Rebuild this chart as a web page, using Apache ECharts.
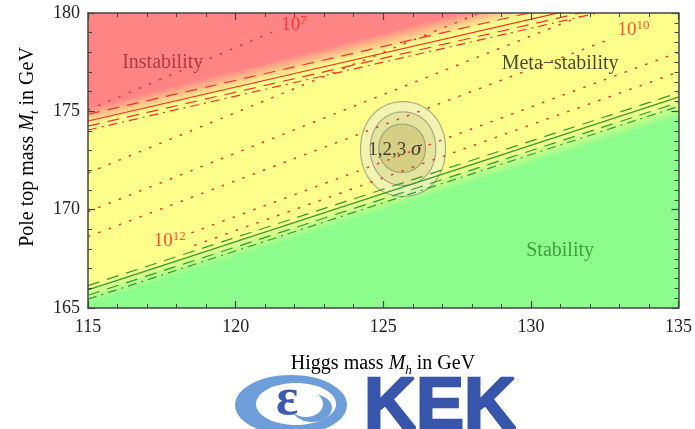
<!DOCTYPE html>
<html>
<head>
<meta charset="utf-8">
<script src="https://cdn.jsdelivr.net/npm/echarts@6.0.0/dist/echarts.min.js"></script>
<style>
html, body { margin: 0; padding: 0; background: #fff; }
#chart { width: 695px; height: 429px; }
</style>
</head>
<body>
<div id="chart"></div>
<script>
// Axis ranges (Higgs mass / pole top mass, GeV)
const mhRange = [115, 135];
const mtRange = [165, 180];

// Boundary lines [Mh, Mt]
const redDashedHi = [[115, 174.85], [135, 181.75]];
const redSolid = [[115, 174.51], [135, 181.41]];
const redDashedLo = [[115, 174.25], [135, 181.15]];
const redDashDot = [[115, 174.05], [135, 180.95]];
const greenDashedHi = [[115, 166.14], [135, 175.94]];
const greenSolid = [[115, 165.92], [135, 175.72]];
const greenDashedLo = [[115, 165.65], [135, 175.45]];
const greenDashDot = [[115, 165.45], [135, 175.25]];

// Instability scale contours (dotted)
const lambda7 = [[115, 175.07], [121.24, 179.03]];
const lambda8 = [[115, 171.87], [128.26, 180]];
const lambda9 = [[115, 169.90], [131.97, 180]];
const lambda10 = [[115, 168.63], [132.7, 178.68]];
const lambda11 = [[118.5, 168.82], [135, 178.0]];
const lambda12 = [[118.6, 168.18], [135, 177.0]];

// Shading edges: [Mh1, Mt1, Mh2, Mt2, side]  side 1 = above, -1 = below
const instabilityEdge = [115, 174.71, 128.9, 180, 1];
const stabilityEdge = [115, 165.66, 135, 175.17, -1];

// 1,2,3 sigma contours: [Mh, Mt, halfWidth, halfHeight]
const sigmaContours = [
    [125.67, 173.08, 1.44, 2.41],
    [125.67, 173.10, 1.11, 1.87],
    [125.64, 173.12, 0.79, 1.23]
];

// Text labels placed in data space
const regionLabels = [
    { text: 'Instability', at: [117.53, 177.46], kind: 'inst' },
    { text: 'Meta\u2212stability', at: [130.99, 177.41], kind: 'meta' },
    { text: 'Stability', at: [130.99, 167.9], kind: 'stab' },
    { text: '1,2,3 \u03c3', at: [125.39, 173.04], kind: 'sigma' },
    { text: '10^7', at: [121.98, 179.39], kind: 'scale' },
    { text: '10^10', at: [133.48, 179.14], kind: 'scale' },
    { text: '10^12', at: [117.77, 168.41], kind: 'scale' }
];

const serif = "'Liberation Serif', 'DejaVu Serif', serif";
const RED = '#f03030';
const GREEN = '#2f9e2f';

function shadeRenderer(full, none, width) {
    return function (params, api) {
        const p1 = api.coord([api.value(0), api.value(1)]);
        const p2 = api.coord([api.value(2), api.value(3)]);
        const side = api.value(4);
        let dx = p2[0] - p1[0], dy = p2[1] - p1[1];
        const len = Math.hypot(dx, dy);
        dx /= len; dy /= len;
        let nx = dy, ny = -dx;
        if ((ny < 0 ? 1 : -1) !== side) { nx = -nx; ny = -ny; }
        const far = 3000, h = width / 2;
        const a = [p1[0] - dx * far, p1[1] - dy * far];
        const b = [p2[0] + dx * far, p2[1] + dy * far];
        const pts = [
            [a[0] - nx * h, a[1] - ny * h], [b[0] - nx * h, b[1] - ny * h],
            [b[0] + nx * far, b[1] + ny * far], [a[0] + nx * far, a[1] + ny * far]
        ];
        const mx = (p1[0] + p2[0]) / 2, my = (p1[1] + p2[1]) / 2;
        return {
            type: 'polygon',
            shape: { points: pts },
            style: {
                fill: new echarts.graphic.LinearGradient(
                    mx - nx * h, my - ny * h, mx + nx * h, my + ny * h,
                    [{ offset: 0, color: none }, { offset: 1, color: full }], true)
            }
        };
    };
}

const sigmaFills = ['rgba(232,232,215,0.5)', 'rgba(200,195,120,0.32)', 'rgba(180,170,80,0.35)'];

function contourRenderer(params, api) {
    const c = api.coord([api.value(0), api.value(1)]);
    const rx = api.size([api.value(2), 0])[0];
    const ry = api.size([0, api.value(3)])[1];
    const n = 2.1, pts = [];
    for (let i = 0; i < 90; i++) {
        const t = i / 90 * Math.PI * 2;
        const ct = Math.cos(t), st = Math.sin(t);
        pts.push([
            c[0] + rx * Math.sign(ct) * Math.pow(Math.abs(ct), 2 / n),
            c[1] + ry * Math.sign(st) * Math.pow(Math.abs(st), 2 / n)
        ]);
    }
    return {
        type: 'polygon',
        shape: { points: pts },
        style: { fill: sigmaFills[params.dataIndex], stroke: 'rgba(125,125,105,0.6)', lineWidth: 1.2 }
    };
}

function lineSeries(data, color, type, width) {
    return {
        type: 'line', data: data, symbol: 'none', silent: true, z: 3,
        lineStyle: { color: color, width: width || 1.2, type: type }
    };
}

const dots = [2.5, 8.5];
const labelStyles = {
    inst: { color: '#a8262e', fontSize: 20 },
    meta: { color: '#1a1a1a', fontSize: 20 },
    stab: { color: '#2a8a2a', fontSize: 20 },
    sigma: { color: '#1a1a1a', fontSize: 19 },
    scale: { color: '#ff2020', fontSize: 19 }
};

function labelFormatter(text) {
    if (text.indexOf('^') > 0) {
        const parts = text.split('^');
        return '{b|' + parts[0] + '}{sup|' + parts[1] + '}';
    }
    if (text.indexOf('\u03c3') > 0) {
        return '{b|' + text.replace(' \u03c3', ' ') + '}{it|\u03c3}';
    }
    return '{b|' + text + '}';
}

const axisColor = '#444';
function axisBase(extra) {
    return Object.assign({
        type: 'value', z: 10,
        axisLine: { show: true, lineStyle: { color: axisColor, width: 1.5 } },
        axisTick: { show: true, inside: true, length: 7, lineStyle: { color: axisColor, width: 1.2 } },
        minorTick: { show: true, splitNumber: 5, length: 4, lineStyle: { color: axisColor, width: 1 } },
        splitLine: { show: false }
    }, extra);
}

const chart = echarts.init(document.getElementById('chart'));
const option = {
    animation: false,
    grid: {
        left: 88, right: 14, top: 13, bottom: 121,
        show: true, backgroundColor: '#ffff8c', borderWidth: 0
    },
    xAxis: [
        axisBase({
            min: mhRange[0], max: mhRange[1], interval: 5,
            axisLabel: { margin: 10, color: '#222', fontFamily: serif, fontSize: 18 }
        }),
        axisBase({
            position: 'top', min: mhRange[0], max: mhRange[1], interval: 5,
            axisLabel: { show: false }
        })
    ],
    yAxis: [
        axisBase({
            min: mtRange[0], max: mtRange[1], interval: 5,
            axisLabel: { margin: 8, color: '#222', fontFamily: serif, fontSize: 18 }
        }),
        axisBase({
            position: 'right', min: mtRange[0], max: mtRange[1], interval: 5,
            minorTick: { show: true, splitNumber: 10, length: 4, lineStyle: { color: axisColor, width: 1 } },
            axisLabel: { show: false }
        })
    ],
    series: [
        {
            type: 'custom', clip: true, silent: true, z: 1,
            encode: { x: [0, 2], y: [1, 3] },
            renderItem: shadeRenderer('#ff8585', 'rgba(255,133,133,0)', 18),
            data: [instabilityEdge]
        },
        {
            type: 'custom', clip: true, silent: true, z: 1,
            encode: { x: [0, 2], y: [1, 3] },
            renderItem: shadeRenderer('#8cfc8c', 'rgba(140,252,140,0)', 18),
            data: [stabilityEdge]
        },
        {
            type: 'custom', clip: true, silent: true, z: 2,
            encode: { x: 0, y: 1 },
            renderItem: contourRenderer,
            data: sigmaContours
        },
        lineSeries(lambda7, RED, dots, 1.5),
        lineSeries(lambda8, RED, dots, 1.5),
        lineSeries(lambda9, RED, dots, 1.5),
        lineSeries(lambda10, RED, dots, 1.5),
        lineSeries(lambda11, RED, dots, 1.5),
        lineSeries(lambda12, RED, dots, 1.5),
        lineSeries(redDashedHi, RED, [12, 8]),
        lineSeries(redSolid, RED, 'solid'),
        lineSeries(redDashedLo, RED, [12, 8]),
        lineSeries(redDashDot, RED, [9, 5, 2, 5]),
        lineSeries(greenDashedHi, GREEN, [12, 8]),
        lineSeries(greenSolid, GREEN, 'solid'),
        lineSeries(greenDashedLo, GREEN, [12, 8]),
        lineSeries(greenDashDot, GREEN, [9, 5, 2, 5]),
        {
            type: 'scatter', silent: true, z: 5, symbolSize: 1,
            itemStyle: { color: 'rgba(0,0,0,0)' },
            data: regionLabels.map(function (d) {
                const st = labelStyles[d.kind];
                return {
                    value: d.at,
                    label: {
                        show: true, position: 'inside',
                        formatter: labelFormatter(d.text),
                        rich: {
                            b: { fontFamily: serif, fontSize: st.fontSize, color: st.color, lineHeight: 22 },
                            sup: { fontFamily: serif, fontSize: 13, color: st.color, verticalAlign: 'top', lineHeight: 13 },
                            it: { fontFamily: serif, fontSize: st.fontSize + 2, fontStyle: 'italic', color: st.color, lineHeight: 22 }
                        }
                    }
                };
            })
        }
    ],
    graphic: [
        {
            type: 'text', x: 28, y: 147, rotation: Math.PI / 2,
            style: {
                text: '{b|Pole top mass }{i|M}{s|t}{b| in GeV}',
                align: 'center', verticalAlign: 'middle',
                rich: {
                    b: { fontFamily: serif, fontSize: 20, color: '#1a1a1a', lineHeight: 26 },
                    i: { fontFamily: serif, fontSize: 20, fontStyle: 'italic', color: '#1a1a1a', lineHeight: 26 },
                    s: { fontFamily: serif, fontSize: 13, fontStyle: 'italic', color: '#1a1a1a', verticalAlign: 'bottom', lineHeight: 13 }
                }
            }
        },
        {
            type: 'text', x: 383, y: 364,
            style: {
                text: '{b|Higgs mass }{i|M}{s|h}{b| in GeV}',
                align: 'center', verticalAlign: 'middle',
                rich: {
                    b: { fontFamily: serif, fontSize: 20, color: '#1a1a1a', lineHeight: 26 },
                    i: { fontFamily: serif, fontSize: 20, fontStyle: 'italic', color: '#1a1a1a', lineHeight: 26 },
                    s: { fontFamily: serif, fontSize: 13, fontStyle: 'italic', color: '#1a1a1a', verticalAlign: 'bottom', lineHeight: 13 }
                }
            }
        },
        // KEK logo
        { type: 'ellipse', shape: { cx: 291, cy: 405, rx: 56, ry: 30 }, style: { fill: '#6e9ed9' } },
        { type: 'ellipse', shape: { cx: 296, cy: 404, rx: 40, ry: 21 }, style: { fill: '#ffffff' } },
        { type: 'ellipse', shape: { cx: 312, cy: 408, rx: 20, ry: 14 }, style: { fill: '#6e9ed9' } },
        { type: 'ellipse', shape: { cx: 306, cy: 404, rx: 17, ry: 13 }, style: { fill: '#ffffff' } },
        {
            type: 'text', x: 287, y: 401,
            style: { text: '\u03b5', fontFamily: serif, fontWeight: 'bold', fontSize: 52, fill: '#3a5bb0', align: 'center', verticalAlign: 'middle' }
        },
        {
            type: 'text', x: 440, y: 408,
            style: {
                text: 'KEK', fontFamily: "'Liberation Sans', Arial, sans-serif", fontWeight: 'bold', fontSize: 72,
                fill: '#3755aa', stroke: '#3755aa', lineWidth: 2.5, align: 'center', verticalAlign: 'middle'
            }
        }
    ]
};
chart.setOption(option);
window.addEventListener('resize', function () {
    chart.resize();
});
</script>
</body>
</html>
